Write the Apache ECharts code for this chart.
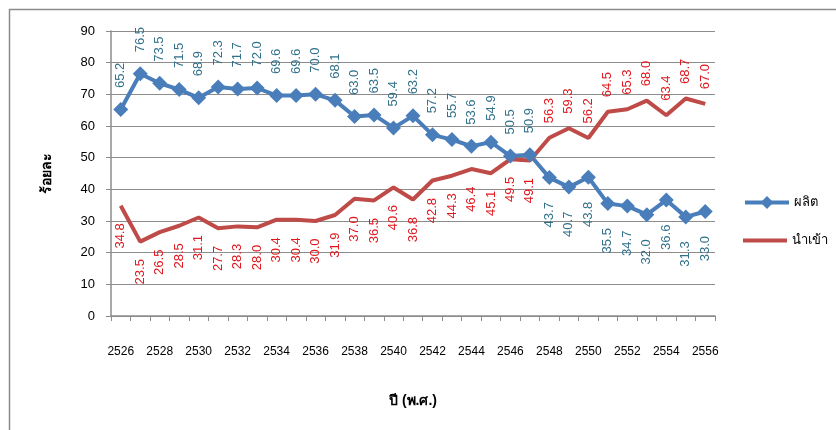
<!DOCTYPE html>
<html><head><meta charset="utf-8">
<script src="https://cdn.jsdelivr.net/npm/echarts@6/dist/echarts.min.js"></script>
<style>html,body{margin:0;padding:0;background:#fff}#c{width:836px;height:430px}</style>
</head><body><div id="c"></div>
<script>
var years = [];
for (var y = 2526; y <= 2556; y++) years.push(String(y));
var produce = [65.2,76.5,73.5,71.5,68.9,72.3,71.7,72.0,69.6,69.6,70.0,68.1,63.0,63.5,59.4,63.2,57.2,55.7,53.6,54.9,50.5,50.9,43.7,40.7,43.8,35.5,34.7,32.0,36.6,31.3,33.0];
var imports = [34.8,23.5,26.5,28.5,31.1,27.7,28.3,28.0,30.4,30.4,30.0,31.9,37.0,36.5,40.6,36.8,42.8,44.3,46.4,45.1,49.5,49.1,56.3,59.3,56.2,64.5,65.3,68.0,63.4,68.7,67.0];
var yTicks = {min:0, max:90, interval:10};
var F = 'Liberation Sans, Arial, sans-serif';
var legendText = {fontFamily:F, fontSize:13, color:'#000'};
function fmt(p){ return p.value.toFixed(1); }
// label on the outer side: above for the higher series, below for the lower
function items(vals, other) {
  return vals.map(function(v, i){
    var up = v >= other[i];
    return {value:v, label: up
      ? {position:'top', distance:14, align:'left'}
      : {position:'bottom', distance:17, align:'right'}};
  });
}
var chart = echarts.init(document.getElementById('c'));
chart.setOption({
  animation:false,
  graphic:[{type:'rect', shape:{x:9.5,y:9.5,width:900,height:500}, style:{fill:'none', stroke:'#8c8c8c', lineWidth:1.5}}],
  grid:{left:111, right:121, top:31, bottom:114},
  legend:[
    {orient:'vertical', left:738, top:191, itemWidth:44, itemHeight:16, itemGap:4, textStyle:legendText,
      lineStyle:{width:4}, data:['ผลิต']},
    {orient:'vertical', left:738, top:229, itemWidth:44, itemHeight:4, itemGap:4, icon:'rect', itemStyle:{color:'#be4b48', opacity:1}, textStyle:legendText, data:['นำเข้า']}
  ],
  xAxis:{type:'category', data:years, boundaryGap:true,
    axisLine:{lineStyle:{color:'#8c8c8c', width:1.5}},
    axisTick:{show:true, interval:0, length:5, lineStyle:{color:'#8c8c8c'}},
    axisLabel:{interval:1, margin:30, fontFamily:F, fontSize:12, color:'#000'},
    name:'ปี (พ.ศ.)', nameLocation:'middle', nameGap:78,
    nameTextStyle:{fontFamily:F, fontSize:14, fontWeight:'bold', color:'#000'}},
  yAxis:{type:'value', min:yTicks.min, max:yTicks.max, interval:yTicks.interval,
    axisLine:{show:true, lineStyle:{color:'#8c8c8c', width:1.5}},
    axisTick:{show:true, length:5, lineStyle:{color:'#8c8c8c'}},
    splitLine:{lineStyle:{color:'#8c8c8c', width:1.2}},
    axisLabel:{margin:16, fontFamily:F, fontSize:13, color:'#000'},
    name:'ร้อยละ', nameLocation:'middle', nameGap:57, nameRotate:90,
    nameTextStyle:{fontFamily:F, fontSize:14, fontWeight:'bold', color:'#000'}},
  series:[
    {name:'ผลิต', type:'line', data:items(produce, imports), symbol:'diamond', symbolSize:15, showAllSymbol:true,
      lineStyle:{color:'#4a7ebb', width:4}, itemStyle:{color:'#4a7ebb'},
      labelLayout:{hideOverlap:false},
      label:{show:true, rotate:90, verticalAlign:'middle',
        fontFamily:F, fontSize:13, color:'#31708a', formatter:fmt}},
    {name:'นำเข้า', type:'line', data:items(imports, produce), symbol:'circle', symbolSize:1, showAllSymbol:true,
      lineStyle:{color:'#be4b48', width:4}, itemStyle:{color:'rgba(0,0,0,0)'},
      labelLayout:{hideOverlap:false},
      label:{show:true, rotate:90, verticalAlign:'middle',
        fontFamily:F, fontSize:13, color:'#e0161c', formatter:fmt}}
  ]
});
</script></body></html>
